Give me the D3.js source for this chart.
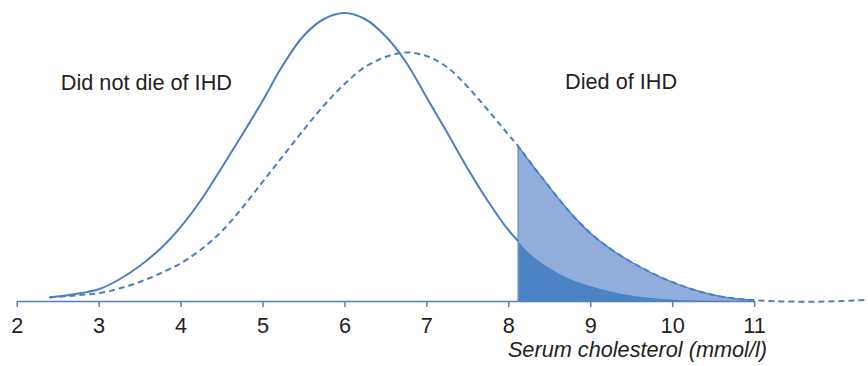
<!DOCTYPE html>
<html>
<head>
<meta charset="utf-8">
<script src="https://cdn.jsdelivr.net/npm/d3@7"></script>
<style>
  html, body { margin: 0; padding: 0; background: #ffffff; }
  svg { display: block; }
  text { font-family: "Liberation Sans", Arial, Helvetica, sans-serif; fill: #231f20; }
</style>
</head>
<body>
<svg id="chart" width="868" height="366"></svg>
<script>
// Serum cholesterol (mmol/l) at which each curve is sampled
const cholesterol = [2.4, 2.6, 2.8, 3.0, 3.25, 3.5, 3.75, 4.0, 4.25, 4.5, 4.75, 5.0, 5.25, 5.5, 5.75,
  6.0, 6.25, 6.5, 6.75, 7.0, 7.25, 7.5, 7.75, 8.0, 8.12, 8.25, 8.5, 8.75, 9.0, 9.25, 9.5, 9.75,
  10.0, 10.25, 10.5, 10.75, 11.0];

// Relative frequency: men who did not die of IHD (solid curve)
const survivors = [0.0043, 0.0064, 0.0095, 0.0136, 0.0250, 0.0407, 0.0605, 0.0860, 0.1174, 0.1547,
  0.1930, 0.2326, 0.2744, 0.3081, 0.3279, 0.3349, 0.3279, 0.3081, 0.2779, 0.2372, 0.1965, 0.1547,
  0.1163, 0.0826, 0.0698, 0.0558, 0.0384, 0.0256, 0.0174, 0.0110, 0.0064, 0.0035, 0.0015, 0.0006,
  0.0001, 0.0, 0.0];

// Relative frequency: men who died of IHD (dashed curve), with its tail past 11
const ihdCholesterol = [2.4, 2.6, 2.8, 3.0, 3.25, 3.5, 3.75, 4.0, 4.25, 4.5, 4.75, 5.0, 5.25, 5.5, 5.75,
  6.0, 6.25, 6.5, 6.75, 7.0, 7.25, 7.5, 7.75, 8.0, 8.12, 8.25, 8.5, 8.75, 9.0, 9.25, 9.5, 9.75,
  10.0, 10.25, 10.5, 10.75, 11.0, 11.25, 11.5, 11.75, 12.0, 12.25, 12.4];
const ihdDeaths = [0.0041, 0.0056, 0.0072, 0.0090, 0.0145, 0.0221, 0.0320, 0.0438, 0.0599, 0.0808,
  0.1081, 0.1384, 0.1686, 0.1988, 0.2273, 0.2523, 0.2721, 0.2837, 0.2890, 0.2849, 0.2721, 0.2494,
  0.2221, 0.1936, 0.1802, 0.1634, 0.1326, 0.1035, 0.0791, 0.0605, 0.0453, 0.0326, 0.0221, 0.0134,
  0.0070, 0.0029, 0.0009, -0.0003, -0.0007, -0.0008, -0.0003, 0.0007, 0.0014];

// Cut-off above which the tails are shaded
const cutoff = 8.12;

const tickValues = [2, 3, 4, 5, 6, 7, 8, 9, 10, 11];
const labels = { left: "Did not die of IHD", right: "Died of IHD", axis: "Serum cholesterol (mmol/l)" };

const lineColor = "#4a7fc2";
const lightFill = "#91addb";
const darkFill = "#4c83c4";
const fontSize = "21.7px";

const svg = d3.select("#chart");
const width = 868;

const x = d3.scaleLinear().domain([2, 12.39]).range([16.7, width]);
const y = d3.scaleLinear().domain([0, 0.35]).range([301, 0]);

const solidPts = cholesterol.map((c, i) => [c, survivors[i]]);
const dashPts = ihdCholesterol.map((c, i) => [c, ihdDeaths[i]]);

const curve = d3.curveCatmullRom.alpha(0.5);
const line = d3.line().x(d => x(d[0])).y(d => y(d[1])).curve(curve);
const area = d3.area().x(d => x(d[0])).y0(y(0)).y1(d => y(d[1])).curve(curve);

// Shaded tails beyond the cut-off
const dashTail = dashPts.filter(d => d[0] >= cutoff && d[0] <= 11);
const solidTail = solidPts.filter(d => d[0] >= cutoff);

svg.append("path").datum(dashTail).attr("d", area).attr("fill", lightFill);
svg.append("path").datum(solidTail).attr("d", area).attr("fill", darkFill);
svg.append("path").datum(dashTail).attr("d", line)
  .attr("fill", "none").attr("stroke", lineColor).attr("stroke-width", 1.3);

// Vertical edge at the cut-off
const cutTop = dashPts.find(d => d[0] === cutoff)[1];
svg.append("line")
  .attr("x1", x(cutoff)).attr("x2", x(cutoff))
  .attr("y1", y(cutTop)).attr("y2", y(0))
  .attr("stroke", "#6d95d0").attr("stroke-width", 1.5);

// Axis from 2 to 11
const axisScale = d3.scaleLinear().domain([2, 11]).range([x(2), x(11)]);
const axis = svg.append("g")
  .attr("transform", `translate(0,${y(0)})`)
  .call(d3.axisBottom(axisScale).tickValues(tickValues).tickSize(6).tickSizeOuter(0)
    .tickFormat(d3.format("d")));
axis.select(".domain").attr("stroke", lineColor).attr("stroke-width", 1.5);
axis.selectAll(".tick line").attr("stroke", lineColor).attr("stroke-width", 1.5);
axis.selectAll(".tick text")
  .attr("y", 32).attr("dy", null)
  .style("font-size", fontSize)
  .style("font-family", "\"Liberation Sans\", Arial, Helvetica, sans-serif")
  .attr("fill", "#231f20");

// Survivor curve (solid) up to the cut-off
svg.append("path").datum(solidPts.filter(d => d[0] <= cutoff)).attr("d", line)
  .attr("fill", "none").attr("stroke", lineColor).attr("stroke-width", 2);

// IHD curve (dashed) over the full range
svg.append("path").datum(dashPts).attr("d", line)
  .attr("fill", "none").attr("stroke", lineColor).attr("stroke-width", 2)
  .attr("stroke-dasharray", "6,4");

// Labels
svg.append("text").attr("x", 60.8).attr("y", 90).style("font-size", fontSize).text(labels.left);
svg.append("text").attr("x", 565).attr("y", 89).style("font-size", fontSize).text(labels.right);
svg.append("text").attr("x", 767).attr("y", 357).attr("text-anchor", "end")
  .style("font-size", fontSize).style("font-style", "italic").text(labels.axis);
</script>
</body>
</html>
